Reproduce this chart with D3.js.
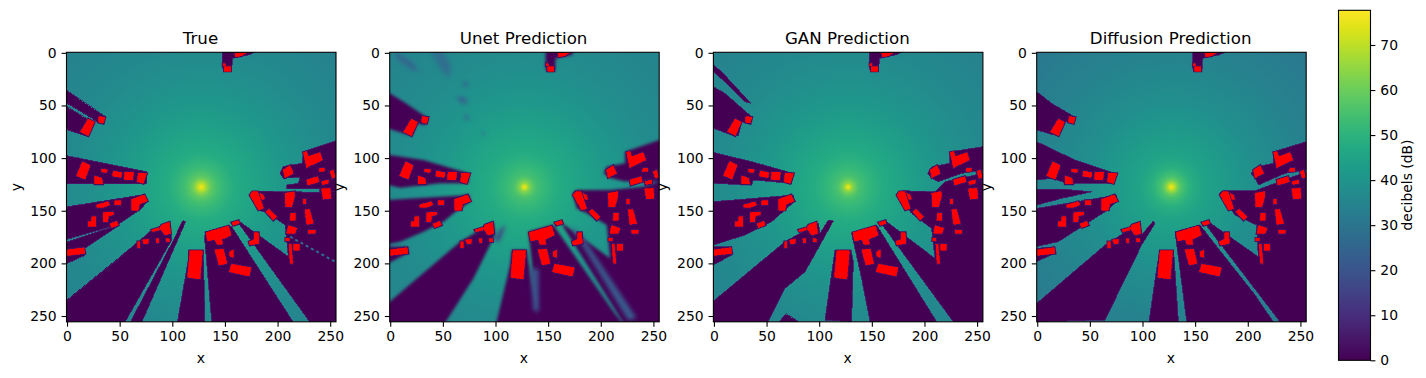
<!DOCTYPE html>
<html>
<head>
<meta charset="utf-8">
<script src="https://cdn.jsdelivr.net/npm/d3@7"></script>
<style>
  body { margin: 0; background: white; }
  text { font-family: "DejaVu Sans", sans-serif; fill: #000; }
</style>
</head>
<body>
<svg id="drawing_region"></svg>
<script>
// all in image coordinates (0-255)
const panelTitles = ['True', 'Unet Prediction', 'GAN Prediction', 'Diffusion Prediction'];
const axisTicks = [0, 50, 100, 150, 200, 250];
const colorbarTicks = [0, 10, 20, 30, 40, 50, 60, 70];
const dbMax = 77.7;

// signal level (dB) against distance from the transmitter
const radialDist = [0, 2, 4, 7, 10, 15, 20, 30, 40, 60, 80, 100, 130, 180];
const trueDb = [77, 73, 68, 62, 58, 54.5, 52, 48.5, 46.5, 43.5, 41, 39, 36.5, 34];
const unetDb = [77, 71, 64, 59, 55.5, 53, 51, 48.5, 46.5, 44, 41.5, 39.5, 37, 35];
const ganDb = [77, 71, 64, 59, 55.5, 53, 51, 48.5, 46.5, 43.5, 41, 39, 36.5, 34];
const diffDb = [77, 72, 66, 59, 55, 51, 48.5, 45, 43.5, 41, 38.5, 36.5, 34, 31];

const buildings = [
  [[30.3,60.7],[36,61.3],[34.5,67],[30,66]],
  [[20.2,62.9],[25.9,66],[20.2,78.7],[12.9,74.9]],
  [[14.8,103.4],[21.8,107.2],[17,119.9],[9.1,116.7]],
  [[32.9,110.4],[38.3,111],[37.6,113.6],[32.9,113]],
  [[44,112.3],[52.2,113.9],[51.2,118.3],[43.3,117.1]],
  [[55,113.6],[63,113.6],[62.3,120.8],[54.4,120.2]],
  [[67.7,114.2],[75.6,114.8],[72.5,124],[66.8,122.4]],
  [[26.5,117],[32.9,119.3],[33.8,124.6],[26.5,124.6]],
  [[61.4,139.2],[73.4,135],[76.3,140.8],[68.7,143.6],[67.7,149.3],[61.4,149.3]],
  [[45.5,140.4],[50.9,140.4],[50.9,144.5],[45.5,144.5]],
  [[28.1,144.5],[39.2,141.4],[40.2,144.5],[34.5,146.8],[28.1,146.8]],
  [[34.5,151.8],[44,151.2],[44,153.7],[39.2,155],[38.6,160.4],[34.5,160.4]],
  [[23.4,155.6],[27.2,155.6],[27.2,164.5],[20.2,164.5],[20.2,160.4],[23.4,160.4]],
  [[40.8,162.6],[47.1,160.1],[48.7,163.5],[42.4,166.1]],
  [[-0.5,187.3],[16.1,185.1],[17,190.5],[-0.5,192.4]],
  [[89.9,163.5],[97.2,161],[98.4,171.5],[93,173.1],[88.3,166.7]],
  [[80.4,168.3],[87.7,166.1],[87.7,168.3],[81.3,169.9]],
  [[71.8,177.8],[77.2,177.2],[77.2,181],[73.1,181.6]],
  [[67.1,179.4],[69.3,179.4],[69.3,185.1],[67.1,185.1]],
  [[84.5,176.8],[87,176.8],[87,180.3],[85.1,180.3]],
  [[94,176.8],[97.2,176.8],[97.2,179.4],[94.6,179.4]],
  [[116.8,188],[128.6,188],[126.3,214.8],[114.6,213.3]],
  [[132,170.8],[153.3,164.5],[155.8,173],[146.9,177.2],[147.6,181.6],[142.2,181.6],[140.6,177.2],[133.6,178.7]],
  [[156.4,161.3],[162.8,159.4],[163.7,162],[158,163.9]],
  [[140.6,187.3],[148.5,186.4],[151.7,200],[144.4,201.5]],
  [[154.8,188.9],[158,187.3],[158,194.3],[154.8,193]],
  [[156.4,200.9],[174.8,204.1],[172.9,212],[154.2,207.9]],
  [[178,170.8],[181.8,170.8],[182.4,181],[173.8,182.5],[172.9,179.4],[178,177.2]],
  [[176.1,131.9],[181.1,131.9],[186.5,147.7],[181.8,149.3],[173.8,135.1]],
  [[183.3,133.5],[186.5,135.1],[187.5,138.9],[184.9,138.9]],
  [[188.7,150.9],[191.9,148.7],[199.2,155.6],[196,158.8]],
  [[207.1,133.5],[216,131.9],[216,136.6],[213.4,146.1],[207.7,146.1]],
  [[212.5,152.5],[216.6,152.5],[216.6,158.8],[211.8,158.8]],
  [[224.5,139.2],[227,139.2],[227,143.6],[224.5,143.6]],
  [[226.1,149.3],[230.2,148.7],[234,162],[227.7,162.9]],
  [[229.3,168.3],[235.6,168.3],[235.6,171.5],[229.3,171.5]],
  [[210.3,164.2],[218.2,166.7],[216.6,171.5],[208.7,171.5]],
  [[207.7,176.2],[210.9,176.2],[210.9,178.4],[207.7,178.4]],
  [[215.6,181.6],[220.7,181.6],[220.7,187.3],[215.6,187.3]],
  [[210.9,181.6],[212.8,181.6],[214.4,200],[212.1,200]],
  [[241.9,129.4],[249.8,128.7],[250.5,138.2],[243.5,138.9]],
  [[227.7,120.8],[238.1,117.7],[239.4,122.4],[228.6,125.6]],
  [[241.9,122.4],[248.3,120.8],[248.3,124],[242.6,125]],
  [[240.3,109.8],[244.5,109.8],[244.5,112.3],[239.4,112.3]],
  [[249.8,112.9],[253,111.3],[254.6,117.7],[252.1,119.3]],
  [[205.5,111.3],[211.8,107.2],[215,114.5],[207.1,118.6]],
  [[224.5,94.6],[227.7,93.9],[229.3,98.7],[240.3,94.9],[242.6,101.8],[230.8,107.2],[227.7,109.1]],
  [[149.5,13.2],[155.5,13.2],[155.5,17.3],[149.5,17.3]],
  [[148.2,10.3],[150.1,10.3],[150.1,12.2],[148.2,12.2]],
  [[159.6,0.5],[170.7,-0.4],[165.9,2.7],[160.2,3.7]]
];

// same small shadow behind the top building in every panel
const topShadow = [[147.6,-0.5],[147.6,13.2],[148.5,17.3],[156.4,17.3],[157.1,5.3],[160.2,4.3],[172.3,2.1],[178.6,-0.5]];

const trueShadows = [
  topShadow,
  [[-0.5,36],[36,60.7],[34.5,67],[29.7,66.4],[25.9,63.8],[-0.5,48]],
  [[-0.5,51.2],[18.6,62.9],[26.5,66],[19.6,79.7],[-0.5,73.3]],
  [[-0.5,98],[15.5,100.9],[75.6,112.9],[75.9,124],[71.5,124.5],[-0.5,124.6]],
  [[-0.5,146.2],[74,134.4],[76.6,141.4],[69,149.3],[48.7,163],[-0.5,177]],
  [[-0.5,179.5],[47.1,163.9],[48,165.1],[17,185.7],[17,192],[-0.5,200]],
  [[-0.5,234.8],[67.7,179.4],[80.4,168.3],[89.9,163.5],[97.8,161],[99.4,177.8],[55,256],[-0.5,256]],
  [[60,256],[99.4,181],[110,159.5],[112.7,160.4],[71,256]],
  [[115.2,187.3],[129.4,187.3],[131.1,256],[104.8,256],[115.2,196.8]],
  [[131.1,170.3],[153.3,164],[156.4,165.1],[215,256],[137.5,256],[131,179.4]],
  [[162.8,159.4],[210.3,193.6],[207.1,163.5],[188.1,150.9],[181.8,149.9],[172.9,135.1],[176.1,131.3],[182,131.5],[240,132.5],[255.5,132],[255.5,256],[230.8,256],[163,162]],
  [[255.5,83.5],[224.5,93.8],[223.5,105],[213.4,106.5],[205.5,108],[202.3,114.4],[205.5,119.2],[221.3,118],[219.7,124],[208.6,125.5],[208.6,129],[240.3,129],[240.3,132],[255.5,132]]
];
const trueDashed = [[211.8,174.6],[254.6,198.4]];

// unet edges are blurred, so its shapes run past the frame
const unetShadows = [
  [[147.6,-8],[147.6,13.2],[148.5,17.3],[156.4,17.3],[157.1,5.3],[160.2,4.3],[172.3,2.1],[178.6,-8]],
  [[-8,34],[12.6,46.4],[36.3,62.3],[33.1,68.6],[25.2,67],[20.5,78.7],[12.6,76.5],[-8,70]],
  [[-8,96],[31.6,101.8],[74.3,114.5],[74.3,124],[47.4,124],[9.4,128.1],[-8,124]],
  [[-8,140],[75.3,135.1],[75.9,141.4],[63.2,150],[50.6,160.4],[31.6,169.9],[9.4,179.4],[-8,183]],
  [[-8,184.2],[16.4,184.2],[16.4,190.5],[-8,203]],
  [[-8,243],[66.4,179.4],[98,160.4],[99.6,173.1],[79,214.3],[47.4,264],[-8,264]],
  [[115.5,187.3],[129.7,187.3],[131.3,198.4],[143,264],[99,264],[113.9,201.6]],
  [[131.3,170],[155,163.6],[212,245.9],[226,264],[142,264]],
  [[161.4,160.4],[208.9,195.3],[205.7,163.6],[186.7,152.5],[177.2,147.8],[173.1,133.5],[177.2,130.3],[208.9,130.3],[240.6,127.2],[264,120],[264,264],[226.3,264]],
  [[202.6,114.5],[205.7,108.2],[223.1,105],[223.1,94],[264,80],[264,122.4],[222,122],[209,119]]
];
// soft blobs that the unet leaves in the open area: level, then outline
const unetBlobDb = [26, 28, 25, 25, 28, 28, 22, 14, 20];
const unetBlobs = [
  [[4,-2],[20,8],[28,18],[20,16],[6,6]],
  [[38,-2],[50,-2],[58,12],[56,24],[48,16]],
  [[70,27],[74,28],[73,33],[69,32]],
  [[62,41],[73,43],[73,49],[66,47]],
  [[70,58],[74,58],[75,64],[71,64]],
  [[87,74],[90,76],[90,79],[87,78]],
  [[171,164],[181,172],[234,252],[226,254]],
  [[104,168],[110,163],[103,180],[99,178]],
  [[133,205],[141,205],[141,245],[136,245]]
];

const ganShadows = [
  topShadow,
  [[-0.5,11.6],[7.3,17.9],[35.2,48],[29.5,46.4],[13.7,30.6],[-0.5,17.9]],
  [[-0.5,32.2],[10.5,38.5],[35.8,60.7],[34.2,67],[26.3,65.4],[23.2,78.7],[16.8,78.1],[-0.5,71.8]],
  [[-0.5,94.6],[35.8,103.4],[75.4,114.5],[73.8,124],[37.4,120.8],[35.8,125.6],[-0.5,124]],
  [[-0.5,141.4],[75.4,135.1],[76.4,141.4],[67.5,149.3],[54.8,160.4],[29.5,173.1],[-0.5,182.6]],
  [[-0.5,184.2],[16.8,184.2],[16.8,192.1],[-0.5,201.6]],
  [[-0.5,235.8],[67.5,179.4],[99.2,162],[100.8,171.5],[108.7,158.8],[113.4,159.8],[100.8,182.6],[86.5,208],[67.5,223.8],[56.4,245.9],[51.7,255.5],[-0.5,255.5]],
  [[62,255.5],[68,248],[80.2,255.5]],
  [[115,187.3],[130.2,187.3],[132.4,198.4],[130.8,255.5],[105.5,253.8]],
  [[130.8,171.5],[154.6,163.6],[211.6,255.5],[148.3,255.5],[140.3,214.3]],
  [[157.7,160.4],[164.1,160.4],[210,195.3],[206.8,166.8],[187.8,152.5],[174.5,135.1],[178.3,131],[210,132],[219.5,122.4],[255.5,114.5],[255.5,255.5],[227.4,255.5]],
  [[203,114.5],[206.8,108.2],[224.2,105],[224.2,94],[255.5,89.2],[255.5,111.3],[235.3,114.5],[213.2,122.4],[206.8,119.3]]
];

const diffShadows = [
  topShadow,
  [[-0.5,36.9],[13.7,48],[35.3,60.7],[34.3,67],[26.4,65.4],[20.1,78.7],[13.7,77.5],[-0.5,73.3]],
  [[-0.5,84.4],[35.9,101.8],[73.9,114.5],[73.3,124],[35.9,124],[34.3,125.6],[13.7,119.3],[-0.5,120.8]],
  [[-0.5,129.4],[23.2,129.4],[51.7,132],[23.2,138.3],[-0.5,144.6]],
  [[-0.5,147.8],[75.5,135.1],[75.5,141.4],[64.4,151],[42.2,165.2],[20.1,179.4],[-0.5,184]],
  [[-0.5,185.8],[16.3,184.2],[16.3,190.5],[-0.5,198.4]],
  [[-0.5,238],[64.4,182.6],[97.6,161.4],[99.2,173.1],[105.6,165.2],[110.3,159.8],[111.9,162],[99.2,182.6],[64.4,253.8],[-0.5,255.5]],
  [[116.6,187.3],[129.3,187.3],[130.3,198.4],[134.1,255.5],[106.2,255.5],[113.5,204.8]],
  [[130.9,169.9],[154.6,163.6],[206.9,230.1],[224.3,255.5],[142,255.5]],
  [[157.8,160.4],[162.6,160.4],[210,193.7],[208.5,163.6],[187.9,154.1],[172.7,133.5],[176.8,131],[206.9,131],[255.5,113],[255.5,255.5],[230.6,255.5]],
  [[203.1,114.5],[208.5,108.2],[224.3,105],[224.3,94],[255.5,84.4],[255.5,111.3],[235.4,114.5],[210,125.6],[206.9,119.3]]
];

const panelDb = [trueDb, unetDb, ganDb, diffDb];
const panelShadows = [trueShadows, unetShadows, ganShadows, diffShadows];

const config = { width: 1426, height: 378, top: 52.3, size: 269.5, lefts: [66.5, 389.7, 713.4, 1036.7] };
const tickFont = '13.9px';

const svg = d3.select('#drawing_region')
    .attr('width', config.width)
    .attr('height', config.height);
const defs = svg.append('defs');

const color = d3.scaleSequential(d3.interpolateViridis).domain([0, dbMax]);

defs.append('filter').attr('id', 'soft')
    .attr('filterUnits', 'userSpaceOnUse')
    .attr('x', 0).attr('y', 0).attr('width', config.width).attr('height', config.height)
    .append('feGaussianBlur').attr('stdDeviation', 1.8);
defs.append('filter').attr('id', 'softer')
    .attr('filterUnits', 'userSpaceOnUse')
    .attr('x', 0).attr('y', 0).attr('width', config.width).attr('height', config.height)
    .append('feGaussianBlur').attr('stdDeviation', 2.2);

function drawPanel(i) {
    const left = config.lefts[i];
    const x = d3.scaleLinear().domain([-0.5, 255.5]).range([left, left + config.size]);
    const y = d3.scaleLinear().domain([-0.5, 255.5]).range([config.top, config.top + config.size]);
    const outline = d3.line().x(d => x(d[0])).y(d => y(d[1]));
    const closed = d => outline(d) + 'Z';

    const g = svg.append('g');

    defs.append('clipPath').attr('id', `clip${i}`)
        .append('rect')
        .attr('x', left).attr('y', config.top)
        .attr('width', config.size).attr('height', config.size);

    const maxR = d3.max(radialDist);
    const grad = defs.append('radialGradient').attr('id', `signal${i}`)
        .attr('gradientUnits', 'userSpaceOnUse')
        .attr('cx', x(127.5)).attr('cy', y(127.5))
        .attr('r', x(maxR) - x(0));
    grad.selectAll('stop').data(radialDist).join('stop')
        .attr('offset', d => d / maxR)
        .attr('stop-color', (d, k) => color(panelDb[i][k]));

    const image = g.append('g').attr('clip-path', `url(#clip${i})`);
    image.append('rect')
        .attr('x', left).attr('y', config.top)
        .attr('width', config.size).attr('height', config.size)
        .attr('fill', `url(#signal${i})`);

    const isUnet = i === 1;
    const shade = image.append('g').attr('filter', isUnet ? 'url(#soft)' : null);
    shade.selectAll('path').data(panelShadows[i]).join('path')
        .attr('d', closed)
        .attr('fill', color(0))
        .attr('stroke', isUnet ? 'none' : color(6))
        .attr('stroke-width', 0.8)
        .attr('shape-rendering', isUnet ? null : 'crispEdges');

    if (isUnet) {
        image.append('g').attr('filter', 'url(#softer)')
            .selectAll('path').data(unetBlobs).join('path')
            .attr('d', closed)
            .attr('fill', (d, k) => color(unetBlobDb[k]));
    }
    if (i === 0) {
        image.append('path')
            .attr('d', outline(trueDashed))
            .attr('fill', 'none')
            .attr('stroke', color(28))
            .attr('stroke-width', 2)
            .attr('stroke-dasharray', '3 3');
    }

    // dark rim first, then the red roofs on top of it
    image.append('g').selectAll('path').data(buildings).join('path')
        .attr('d', closed)
        .attr('fill', color(3))
        .attr('stroke', color(3))
        .attr('stroke-width', 2.6);
    image.append('g').selectAll('path').data(buildings).join('path')
        .attr('d', closed)
        .attr('fill', '#ff0000')
        .attr('stroke', '#ff0000')
        .attr('stroke-width', 0.7)
        .attr('shape-rendering', 'crispEdges');

    g.append('rect')
        .attr('x', left).attr('y', config.top)
        .attr('width', config.size).attr('height', config.size)
        .attr('fill', 'none').attr('stroke', '#000').attr('stroke-width', 1.1);

    const xAxis = d3.axisBottom(x).tickValues(axisTicks).tickSize(4.9).tickPadding(4.9);
    const yAxis = d3.axisLeft(y).tickValues(axisTicks).tickSize(4.9).tickPadding(4.9);
    const gx = g.append('g').attr('transform', `translate(0,${config.top + config.size})`).call(xAxis);
    const gy = g.append('g').attr('transform', `translate(${left},0)`).call(yAxis);
    gx.select('.domain').remove();
    gy.select('.domain').remove();
    g.selectAll('.tick line').attr('stroke-width', 1.1);
    g.selectAll('.tick text').style('font-family', '"DejaVu Sans"').style('font-size', tickFont);

    g.append('text')
        .attr('x', left + config.size / 2 - 0.8).attr('y', 44)
        .attr('text-anchor', 'middle').style('font-size', '16.67px')
        .text(panelTitles[i]);
    g.append('text')
        .attr('x', left + config.size / 2 - 0.5).attr('y', 363)
        .attr('text-anchor', 'middle').style('font-size', tickFont)
        .text('x');
    g.append('text')
        .attr('transform', `translate(${left - 46},${config.top + config.size / 2}) rotate(-90)`)
        .attr('text-anchor', 'middle').style('font-size', tickFont)
        .text('y');
}

panelTitles.forEach((d, i) => drawPanel(i));

// colour bar
const barY = d3.scaleLinear().domain([0, dbMax]).range([360.3, 10.3]);
const bar = svg.append('g');
const barGrad = defs.append('linearGradient').attr('id', 'barGrad')
    .attr('x1', 0).attr('y1', 1).attr('x2', 0).attr('y2', 0);
barGrad.selectAll('stop').data(d3.range(0, 1.001, 0.05)).join('stop')
    .attr('offset', d => d)
    .attr('stop-color', d => d3.interpolateViridis(d));
bar.append('rect')
    .attr('x', 1338.5).attr('y', 10.3)
    .attr('width', 32).attr('height', 350)
    .attr('fill', 'url(#barGrad)')
    .attr('stroke', '#000').attr('stroke-width', 1.1);
const barAxis = bar.append('g').attr('transform', 'translate(1370.5,0)')
    .call(d3.axisRight(barY).tickValues(colorbarTicks).tickSize(4.9).tickPadding(4.9));
barAxis.select('.domain').remove();
barAxis.selectAll('.tick line').attr('stroke-width', 1.1);
barAxis.selectAll('.tick text').style('font-family', '"DejaVu Sans"').style('font-size', tickFont);
bar.append('text')
    .attr('transform', 'translate(1412,185) rotate(-90)')
    .attr('text-anchor', 'middle').style('font-size', tickFont)
    .text('decibels (dB)');
</script>
</body>
</html>
